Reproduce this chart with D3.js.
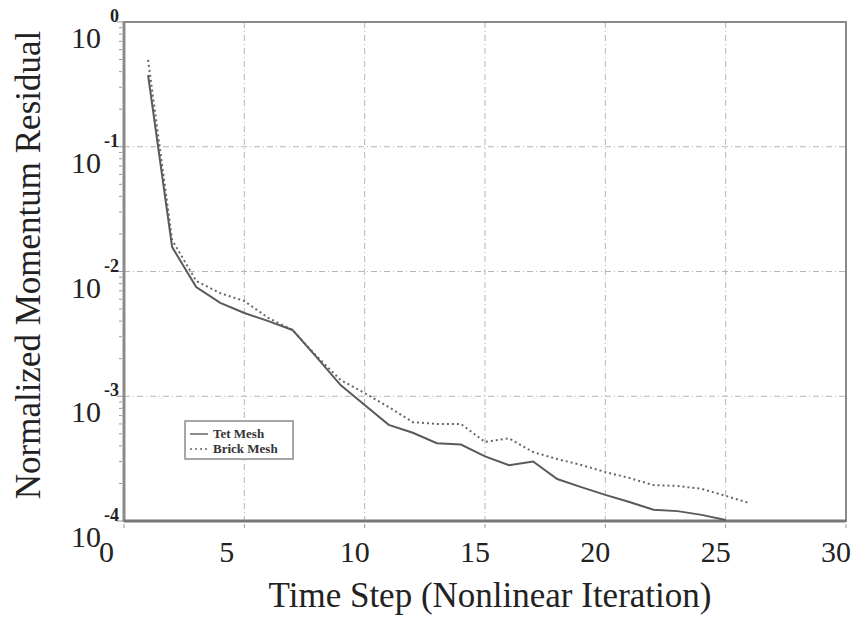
<!DOCTYPE html>
<html>
<head>
<meta charset="utf-8">
<script src="https://cdn.jsdelivr.net/npm/d3@7"></script>
<style>
  body { margin: 0; background: #fff; }
  svg { display: block; font-family: "Liberation Serif", "Times New Roman", serif; }
</style>
</head>
<body>
<svg id="chart" width="851" height="622"></svg>
<script>
// values
const tetSteps = [1, 2, 3, 4, 5, 6, 7, 8, 9, 10, 11, 12, 13, 14, 15, 16, 17, 18, 19, 20, 21, 22, 23, 24, 25];
const tetResidual = [0.376, 0.0157, 0.0075, 0.0056, 0.00465, 0.0040, 0.0034, 0.00206, 0.00123, 0.00085,
  0.00059, 0.00051, 0.00042, 0.00041, 0.00033, 0.00028, 0.0003, 0.000217, 0.000187, 0.000162,
  0.000142, 0.000123, 0.00012, 0.000112, 0.000102];
const brickSteps = [1, 2, 3, 4, 5, 6, 7, 8, 9, 10, 11, 12, 13, 14, 15, 16, 17, 18, 19, 20, 21, 22, 23, 24, 25, 26];
const brickResidual = [0.496, 0.0179, 0.0084, 0.0067, 0.0058, 0.00424, 0.0034, 0.0021, 0.00135, 0.00106,
  0.00082, 0.00062, 0.0006, 0.0006, 0.00043, 0.00046, 0.000357, 0.000314, 0.000281, 0.000247,
  0.000221, 0.000194, 0.000191, 0.000181, 0.000159, 0.000139];
const xTicks = [0, 5, 10, 15, 20, 25, 30];
const yDecades = [0, -1, -2, -3, -4];
const seriesNames = ['Tet Mesh', 'Brick Mesh'];

const margin = { top: 22, right: 5, bottom: 101, left: 124 };
const width = 851, height = 622;

const svg = d3.select('#chart');

const x = d3.scaleLinear().domain([0, 30]).range([margin.left, width - margin.right]);
const y = d3.scaleLog().domain([1e-4, 1]).range([height - margin.bottom, margin.top]);

const gridColor = '#b5b5b5';
const frameColor = '#8a8a8a';

// grid
const grid = svg.append('g').attr('class', 'grid')
  .attr('stroke', gridColor).attr('stroke-width', 1).attr('stroke-dasharray', '6,3,1,3');
grid.selectAll('line.v')
  .data(xTicks.filter(d => d > 0 && d < 30))
  .enter().append('line').classed('v', true)
  .attr('x1', d => x(d)).attr('x2', d => x(d))
  .attr('y1', y(1)).attr('y2', y(1e-4));
grid.selectAll('line.h')
  .data(yDecades.filter(d => d < 0 && d > -4))
  .enter().append('line').classed('h', true)
  .attr('x1', x(0)).attr('x2', x(30))
  .attr('y1', d => y(Math.pow(10, d))).attr('y2', d => y(Math.pow(10, d)));

// minor ticks on log axis
const minor = [];
for (let k = -4; k < 0; ++k) {
  for (let m = 2; m <= 9; ++m) minor.push(m * Math.pow(10, k));
}
svg.append('g').attr('stroke', '#999').attr('stroke-width', 1)
  .selectAll('line')
  .data(minor)
  .enter().append('line')
  .attr('x1', x(0) - 5).attr('x2', x(0) - 2)
  .attr('y1', d => y(d)).attr('y2', d => y(d));
svg.append('g').attr('stroke', '#999').attr('stroke-width', 1)
  .selectAll('line')
  .data(yDecades)
  .enter().append('line')
  .attr('x1', x(0) - 7).attr('x2', x(0))
  .attr('y1', d => y(Math.pow(10, d))).attr('y2', d => y(Math.pow(10, d)));
svg.append('g').attr('stroke', '#999').attr('stroke-width', 1)
  .selectAll('line')
  .data(xTicks)
  .enter().append('line')
  .attr('x1', d => x(d)).attr('x2', d => x(d))
  .attr('y1', y(1e-4) + 3).attr('y2', y(1e-4) + 7);

// frame
svg.append('rect')
  .attr('x', x(0)).attr('y', y(1))
  .attr('width', x(30) - x(0)).attr('height', y(1e-4) - y(1))
  .attr('fill', 'none').attr('stroke', frameColor).attr('stroke-width', 2);
svg.append('line')
  .attr('x1', x(0)).attr('x2', x(0)).attr('y1', y(1) - 1).attr('y2', y(1e-4) + 1)
  .attr('stroke', frameColor).attr('stroke-width', 3);
svg.append('line')
  .attr('x1', x(0)).attr('x2', x(30)).attr('y1', y(1e-4)).attr('y2', y(1e-4))
  .attr('stroke', '#777').attr('stroke-width', 3);

// series
const line = d3.line()
  .x(d => x(d[0]))
  .y(d => y(d[1]));

svg.append('path')
  .datum(d3.zip(brickSteps, brickResidual))
  .attr('d', line)
  .attr('fill', 'none').attr('stroke', '#666').attr('stroke-width', 2)
  .attr('stroke-dasharray', '2,3');
svg.append('path')
  .datum(d3.zip(tetSteps, tetResidual))
  .attr('d', line)
  .attr('fill', 'none').attr('stroke', '#5a5a5a').attr('stroke-width', 2);

// x tick labels
svg.append('g').attr('font-size', 30).attr('fill', '#222')
  .selectAll('text')
  .data(xTicks)
  .enter().append('text')
  .attr('x', d => x(d) - 25)
  .attr('y', 562)
  .text(d => d);

// y tick labels: 10 with exponent
const yl = svg.append('g').attr('fill', '#222');
yl.selectAll('text.base')
  .data(yDecades)
  .enter().append('text').classed('base', true)
  .attr('x', 101).attr('y', d => y(Math.pow(10, d)) + 26)
  .attr('text-anchor', 'end').attr('font-size', 30)
  .text('10');
yl.selectAll('text.exp')
  .data(yDecades)
  .enter().append('text').classed('exp', true)
  .attr('x', 119).attr('y', d => y(Math.pow(10, d)) + 0)
  .attr('text-anchor', 'end').attr('font-size', 18).attr('font-weight', 'bold')
  .text(d => d === 0 ? '0' : d);

// axis titles
svg.append('text')
  .attr('x', (x(0) + x(30)) / 2 + 5).attr('y', 607)
  .attr('text-anchor', 'middle').attr('font-size', 35).attr('fill', '#222')
  .text('Time Step (Nonlinear Iteration)');
svg.append('text')
  .attr('transform', 'translate(40,265) rotate(-90)')
  .attr('text-anchor', 'middle').attr('font-size', 35).attr('fill', '#222')
  .text('Normalized Momentum Residual');

// legend
const legend = svg.append('g').attr('transform', 'translate(185,421)');
legend.append('rect')
  .attr('width', 108).attr('height', 38)
  .attr('fill', '#fff').attr('stroke', frameColor).attr('stroke-width', 1.5);
const items = legend.selectAll('g.item')
  .data(seriesNames)
  .enter().append('g').classed('item', true)
  .attr('transform', (_, i) => `translate(0,${13 + i * 15})`);
items.append('line')
  .attr('x1', 5).attr('x2', 23).attr('y1', 0).attr('y2', 0)
  .attr('stroke', '#666').attr('stroke-width', 1.5)
  .attr('stroke-dasharray', (_, i) => i ? '2,3' : null);
items.append('text')
  .attr('x', 28).attr('y', 4)
  .attr('font-size', 13).attr('font-weight', 'bold').attr('fill', '#333')
  .text(d => d);
</script>
</body>
</html>
